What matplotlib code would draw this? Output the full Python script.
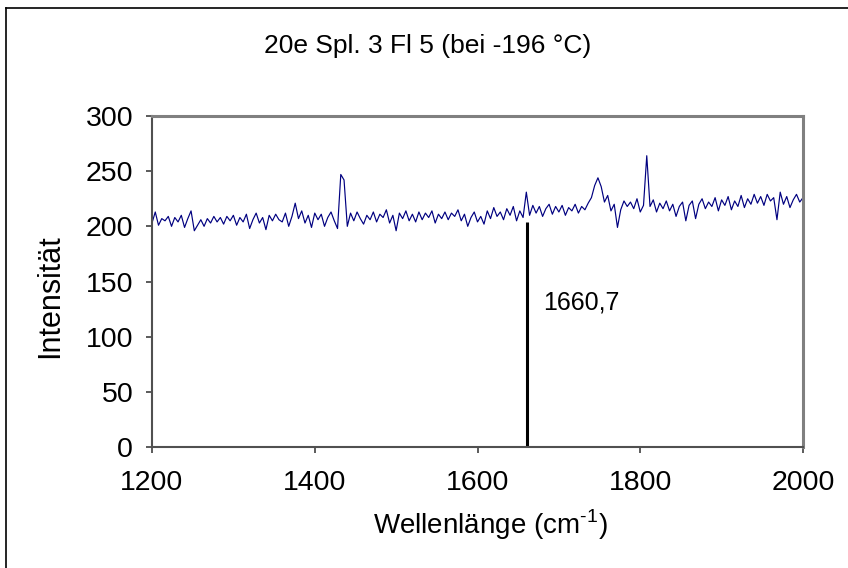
import numpy as np
import matplotlib
matplotlib.use("Agg")
import matplotlib.pyplot as plt
from matplotlib.lines import Line2D

plt.rcParams['font.family'] = ['Liberation Sans', 'DejaVu Sans']
plt.rcParams['mathtext.fontset'] = 'custom'
plt.rcParams['mathtext.rm'] = 'Liberation Sans'

# Raman spectrum, wavenumber grid (cm-1) and measured intensity
wavenumber = list(range(1200, 2001, 4))
intensity = [
    203, 213, 201, 207, 205, 209, 200, 208, 204, 210,
    199, 207, 214, 196, 201, 206, 200, 207, 203, 209,
    204, 208, 202, 209, 205, 210, 201, 208, 204, 211,
    198, 206, 212, 203, 208, 197, 210, 205, 211, 206,
    204, 212, 200, 209, 221, 207, 214, 203, 210, 199,
    212, 206, 211, 200, 208, 213, 205, 198, 247, 242,
    200, 212, 205, 213, 207, 202, 210, 206, 213, 204,
    211, 208, 215, 203, 210, 196, 212, 207, 214, 205,
    211, 204, 213, 206, 212, 208, 214, 203, 211, 207,
    213, 206, 212, 209, 215, 205, 211, 200, 208, 213,
    204, 209, 202, 214, 207, 217, 209, 213, 206, 216,
    210, 218, 205, 214, 208, 231, 210, 219, 212, 218,
    209, 216, 220, 211, 218, 213, 219, 210, 217, 214,
    220, 212, 218, 215, 221, 226, 237, 244, 236, 222,
    228, 214, 220, 199, 215, 223, 218, 222, 216, 225,
    213, 219, 264, 218, 224, 213, 221, 216, 223, 214,
    220, 209, 218, 222, 205, 219, 223, 207, 220, 225,
    216, 222, 218, 226, 214, 224, 219, 227, 215, 223,
    218, 228, 217, 225, 220, 229, 221, 227, 219, 229,
    223, 226, 206, 231, 220, 227, 217, 224, 229, 222,
    226,
]

# Marked band position and its height
peak_pos = 1660.7
peak_height = 204
peak_label = "1660,7"

title = "20e Spl. 3 Fl 5 (bei -196 °C)"
x_label = "Wellenlänge (cm$^{\\text{-1}}$)"
y_label = "Intensität"
x_ticks = [1200, 1400, 1600, 1800, 2000]
y_ticks = [0, 50, 100, 150, 200, 250, 300]

fig = plt.figure(figsize=(8.48, 5.68), dpi=100)
ax = fig.add_axes([152 / 848, 1 - 447 / 568, (803 - 152) / 848, (447 - 116) / 568])

ax.plot(wavenumber, intensity, color="#000080", lw=0.85)
ax.vlines(peak_pos, 0, peak_height, color="black", lw=2.2)
ax.text(peak_pos + 20, 131, peak_label, fontsize=18, va="center", ha="left")

ax.set_xlim(1200, 2000)
ax.set_ylim(0, 300)
ax.set_xticks(x_ticks)
ax.set_yticks(y_ticks)
ax.tick_params(axis="both", direction="out", length=4.5, width=1.2, color="#404040",
               labelsize=20.5)
ax.tick_params(axis="y", pad=9)
ax.tick_params(axis="x", pad=12)

for side in ("top", "right"):
    ax.spines[side].set_color("#808080")
    ax.spines[side].set_linewidth(2.2)
for side in ("left", "bottom"):
    ax.spines[side].set_color("#505050")
    ax.spines[side].set_linewidth(1.5)

ax.set_xlabel(x_label, fontsize=20)
ax.xaxis.set_label_coords((490 - 152) / 651, (447 - 525) / 331)
ax.xaxis.label.set_va("center")
ax.set_ylabel(y_label, fontsize=22)
ax.yaxis.set_label_coords((50 - 152) / 651, (447 - 296) / 331)
ax.yaxis.label.set_va("center")

fig.text(428 / 848, 1 - 46 / 568, title, fontsize=19, ha="center", va="center")

# Outer chart frame (left and top edges visible)
fig.add_artist(Line2D([6 / 848, 6 / 848], [0, 1 - 8 / 568], transform=fig.transFigure,
                      color="black", lw=1.2))
fig.add_artist(Line2D([6 / 848, 1], [1 - 8 / 568, 1 - 8 / 568], transform=fig.transFigure,
                      color="black", lw=1.2))

fig.savefig("out.png", dpi=100)
